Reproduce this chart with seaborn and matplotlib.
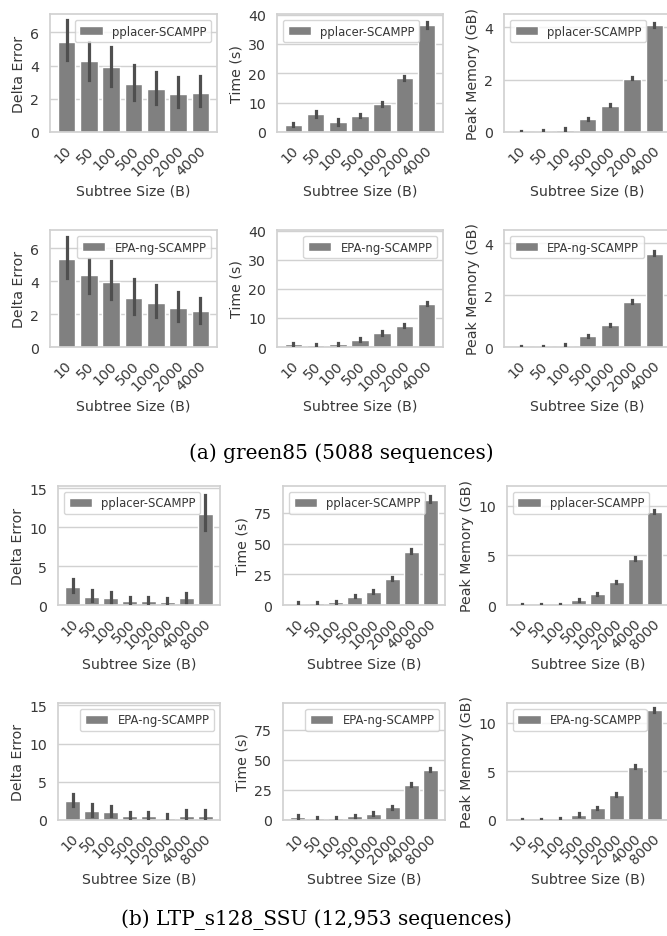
import matplotlib
matplotlib.use("Agg")
import matplotlib.pyplot as plt
import matplotlib.transforms as mtransforms
import seaborn as sns

# ---------------- data ----------------
sizes_green = ["10", "50", "100", "500", "1000", "2000", "4000"]
sizes_ltp = ["10", "50", "100", "500", "1000", "2000", "4000", "8000"]

# green85, pplacer-SCAMPP
g_pp_delta = [5.44, 4.26, 3.90, 2.88, 2.60, 2.26, 2.34]
g_pp_delta_lo = [4.36, 3.10, 2.76, 1.94, 1.70, 1.50, 1.54]
g_pp_delta_hi = [6.76, 5.40, 5.14, 4.04, 3.60, 3.30, 3.34]
g_pp_time = [2.5, 6.0, 3.3, 5.6, 9.5, 18.3, 36.3]
g_pp_time_lo = [1.9, 5.1, 2.5, 5.1, 8.9, 17.6, 35.3]
g_pp_time_hi = [3.2, 7.0, 4.4, 6.3, 10.2, 19.1, 37.5]
g_pp_mem = [0.02, 0.04, 0.09, 0.49, 1.01, 2.04, 4.07]
g_pp_mem_lo = [0.00, 0.02, 0.06, 0.46, 0.98, 2.01, 4.02]
g_pp_mem_hi = [0.04, 0.06, 0.14, 0.55, 1.06, 2.09, 4.16]

# green85, EPA-ng-SCAMPP
g_epa_delta = [5.36, 4.34, 3.96, 2.96, 2.70, 2.36, 2.16]
g_epa_delta_lo = [4.20, 3.30, 2.90, 2.00, 1.85, 1.55, 1.45]
g_epa_delta_hi = [6.70, 5.34, 5.20, 4.10, 3.75, 3.35, 3.00]
g_epa_time = [0.9, 0.8, 1.0, 2.5, 4.8, 7.3, 14.9]
g_epa_time_lo = [0.6, 0.6, 0.7, 2.2, 4.2, 6.9, 14.3]
g_epa_time_hi = [1.4, 1.1, 1.5, 3.0, 5.6, 7.8, 15.6]
g_epa_mem = [0.01, 0.03, 0.05, 0.42, 0.84, 1.74, 3.59]
g_epa_mem_lo = [0.00, 0.01, 0.03, 0.39, 0.81, 1.70, 3.55]
g_epa_mem_hi = [0.03, 0.05, 0.10, 0.47, 0.90, 1.81, 3.68]

# LTP_s128_SSU, pplacer-SCAMPP
l_pp_delta = [2.36, 1.07, 0.94, 0.51, 0.51, 0.39, 0.86, 11.7]
l_pp_delta_lo = [1.70, 0.47, 0.43, 0.17, 0.20, 0.10, 0.34, 9.6]
l_pp_delta_hi = [3.35, 1.93, 1.70, 1.03, 1.07, 0.86, 1.54, 14.1]
l_pp_time = [1.1, 1.4, 2.2, 6.9, 10.8, 21.6, 43.6, 85.9]
l_pp_time_lo = [0.6, 0.9, 1.6, 6.2, 10.0, 20.4, 42.4, 84.0]
l_pp_time_hi = [2.4, 2.7, 3.3, 8.0, 12.0, 23.2, 45.4, 88.6]
l_pp_mem = [0.02, 0.03, 0.05, 0.52, 1.10, 2.30, 4.67, 9.42]
l_pp_mem_lo = [0.00, 0.01, 0.02, 0.45, 1.03, 2.20, 4.57, 9.30]
l_pp_mem_hi = [0.09, 0.07, 0.12, 0.64, 1.22, 2.45, 4.83, 9.60]

# LTP_s128_SSU, EPA-ng-SCAMPP
l_epa_delta = [2.46, 1.20, 1.00, 0.52, 0.47, 0.30, 0.56, 0.56]
l_epa_delta_lo = [1.77, 0.56, 0.47, 0.17, 0.13, 0.09, 0.17, 0.17]
l_epa_delta_hi = [3.45, 2.15, 1.85, 1.08, 1.00, 0.78, 1.29, 1.25]
l_epa_time = [2.7, 1.4, 1.4, 3.0, 5.2, 10.4, 29.0, 41.8]
l_epa_time_lo = [1.8, 0.9, 0.9, 2.1, 4.4, 9.3, 27.8, 40.6]
l_epa_time_hi = [4.3, 2.6, 2.5, 4.3, 6.5, 11.9, 30.8, 43.5]
l_epa_mem = [0.02, 0.03, 0.06, 0.55, 1.19, 2.56, 5.46, 11.26]
l_epa_mem_lo = [0.00, 0.01, 0.03, 0.45, 1.10, 2.45, 5.35, 11.12]
l_epa_mem_hi = [0.08, 0.06, 0.18, 0.74, 1.35, 2.74, 5.65, 11.45]

methods = ["pplacer-SCAMPP", "EPA-ng-SCAMPP"]
captions = ["(a) green85 (5088 sequences)", "(b) LTP_s128_SSU (12,953 sequences)"]
xlabel = "Subtree Size (B)"
ylabels = ["Delta Error", "Time (s)", "Peak Memory (GB)"]

# ---------------- style ----------------
sns.set_theme(style="whitegrid")
plt.rcParams.update({
    "font.family": ["DejaVu Sans"],
    "axes.labelsize": 10.2,
    "xtick.labelsize": 10.2,
    "ytick.labelsize": 10.2,
    "legend.fontsize": 8.4,
    "xtick.major.size": 0,
    "ytick.major.size": 0,
    "xtick.major.pad": 8,
    "ytick.major.pad": 8,
    "axes.labelpad": 4,
    "axes.edgecolor": ".82",
    "grid.color": ".82",
    "text.color": ".22",
    "axes.labelcolor": ".22",
    "xtick.color": ".22",
    "ytick.color": ".22",
})

BAR = "#808080"
ERR = "#4f4f4f"

W, H = 667, 937
fig = plt.figure(figsize=(W / 100, H / 100), dpi=100)
shift = mtransforms.ScaledTranslation(8 / 100, 0, fig.dpi_scale_trans)


def add_ax(left, top, right, bottom):
    return fig.add_axes([left / W, 1 - bottom / H, (right - left) / W, (bottom - top) / H])


def panel(ax, cats, vals, lo, hi, method, ylabel, yticks, ylim, loc):
    sns.barplot(x=cats, y=vals, color=BAR, saturation=1, errorbar=None,
                label=method, ax=ax, width=0.8)
    for i, (a, b) in enumerate(zip(lo, hi)):
        ax.plot([i, i], [a, b], color=ERR, lw=2.3, solid_capstyle="projecting", zorder=3)
    ax.set_ylim(*ylim)
    ax.set_yticks(yticks)
    ax.set_xlabel(xlabel)
    ax.set_ylabel(ylabel, labelpad=3)
    for t in ax.get_xticklabels():
        t.set_rotation(45)
        t.set_ha("right")
        t.set_transform(t.get_transform() + shift)
    ax.legend(loc=loc, frameon=True)
    for s in ax.spines.values():
        s.set_color(".82")


# column / row positions in pixels
cols_a = [(50, 217), (277, 443), (504, 671)]
rows_a = [(15, 133), (231, 348)]
cols_b = [(58, 220), (283, 445), (507, 669)]
rows_b = [(487, 606), (704, 821)]

green = [
    [(g_pp_delta, g_pp_delta_lo, g_pp_delta_hi), (g_pp_time, g_pp_time_lo, g_pp_time_hi),
     (g_pp_mem, g_pp_mem_lo, g_pp_mem_hi)],
    [(g_epa_delta, g_epa_delta_lo, g_epa_delta_hi), (g_epa_time, g_epa_time_lo, g_epa_time_hi),
     (g_epa_mem, g_epa_mem_lo, g_epa_mem_hi)],
]
ltp = [
    [(l_pp_delta, l_pp_delta_lo, l_pp_delta_hi), (l_pp_time, l_pp_time_lo, l_pp_time_hi),
     (l_pp_mem, l_pp_mem_lo, l_pp_mem_hi)],
    [(l_epa_delta, l_epa_delta_lo, l_epa_delta_hi), (l_epa_time, l_epa_time_lo, l_epa_time_hi),
     (l_epa_mem, l_epa_mem_lo, l_epa_mem_hi)],
]

green_ticks = [[0, 2, 4, 6], [0, 10, 20, 30, 40], [0, 2, 4]]
green_lims = [(0, 7.1), (0, 40.2), (0, 4.5)]
green_locs = [["upper right", "upper left", "upper left"],
              ["upper right", "upper right", "upper left"]]
ltp_ticks = [[0, 5, 10, 15], [0, 25, 50, 75], [0, 5, 10]]
ltp_lims = [(0, 15.3), (0, 97), (0, 12.0)]
ltp_locs = [["upper left", "upper left", "upper left"],
            ["upper right", "upper right", "upper left"]]

for r in range(2):
    for c in range(3):
        ax = add_ax(cols_a[c][0], rows_a[r][0], cols_a[c][1], rows_a[r][1])
        v, lo, hi = green[r][c]
        panel(ax, sizes_green, v, lo, hi, methods[r], ylabels[c],
              green_ticks[c], green_lims[c], green_locs[r][c])
        ax = add_ax(cols_b[c][0], rows_b[r][0], cols_b[c][1], rows_b[r][1])
        v, lo, hi = ltp[r][c]
        panel(ax, sizes_ltp, v, lo, hi, methods[r], ylabels[c],
              ltp_ticks[c], ltp_lims[c], ltp_locs[r][c])

fig.text(341 / W, 1 - 453 / H, captions[0], ha="center", va="center",
         family="DejaVu Serif", fontsize=14.4, color="black")
fig.text(316 / W, 1 - 920 / H, captions[1], ha="center", va="center",
         family="DejaVu Serif", fontsize=14.4, color="black")

fig.savefig("out.png", dpi=100)
